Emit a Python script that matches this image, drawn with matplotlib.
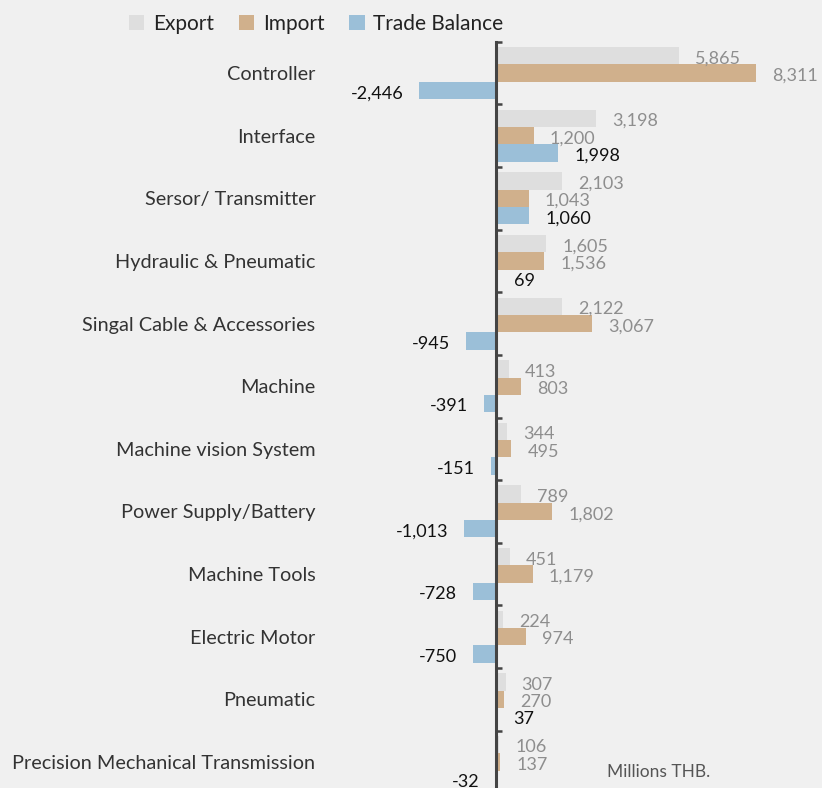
import matplotlib
matplotlib.use("Agg")
import matplotlib.pyplot as plt
from matplotlib.patches import Patch
import numpy as np

categories = ["Controller", "Interface", "Sersor/ Transmitter", "Hydraulic & Pneumatic",
              "Singal Cable & Accessories", "Machine", "Machine vision System",
              "Power Supply/Battery", "Machine Tools", "Electric Motor", "Pneumatic",
              "Precision Mechanical Transmission"]
export_vals = [5865, 3198, 2103, 1605, 2122, 413, 344, 789, 451, 224, 307, 106]
import_vals = [8311, 1200, 1043, 1536, 3067, 803, 495, 1802, 1179, 974, 270, 137]
balance_vals = [-2446, 1998, 1060, 69, -945, -391, -151, -1013, -728, -750, 37, -32]
series_names = ["Export", "Import", "Trade Balance"]
unit_label = "Millions THB."

plt.rcParams['font.family'] = ['Lato', 'DejaVu Sans']

BG = "#f0f0f0"
C_EXP = "#dedede"
C_IMP = "#d0b08c"
C_BAL = "#9bbfd8"

W, H = 822, 788
fig = plt.figure(figsize=(W/100, H/100), dpi=100, facecolor=BG)
top_px, bot_px = 41.7, 793.3
ax = fig.add_axes([0, (H - bot_px)/H, 1, (bot_px - top_px)/H])
ax.set_facecolor(BG)

y = np.arange(len(categories))
bh = 0.277
ax.barh(y - bh, export_vals, height=bh, color=C_EXP)
ax.barh(y, import_vals, height=bh, color=C_IMP)
ax.barh(y + bh, balance_vals, height=bh, color=C_BAL)

scale = 0.03128  # px per unit
ax.set_xlim(-496/scale, (W-496)/scale)
ax.set_ylim(len(categories) - 0.5, -0.5)

for s in ['top', 'right', 'bottom']:
    ax.spines[s].set_visible(False)
ax.spines['left'].set_position(('data', 0))
ax.spines['left'].set_color('#444444')
ax.spines['left'].set_linewidth(2.2)
ax.set_xticks([])
ax.set_yticks(y)
ax.set_yticklabels(categories, fontsize=14.3, color='#333333')
ax.tick_params(axis='y', which='major', length=0, pad=130)
ax.set_yticks(np.arange(len(categories) + 1) - 0.5, minor=True)
ax.tick_params(axis='y', which='minor', direction='in', length=4.5, width=1.8, color='#444444')

def fmt(v):
    return f"{v:,.0f}"

off = 11.5
fs = 13
for yi, v in zip(y - bh, export_vals):
    ax.annotate(fmt(v), (v, yi), xytext=(off, -2), textcoords='offset points',
                ha='left', va='center', fontsize=fs, color='#8e8e8e')
for yi, v in zip(y, import_vals):
    ax.annotate(fmt(v), (v, yi), xytext=(off, -2), textcoords='offset points',
                ha='left', va='center', fontsize=fs, color='#8e8e8e')
for yi, v in zip(y + bh, balance_vals):
    ax.annotate(fmt(v), (v, yi), xytext=(off if v >= 0 else -off, -2), textcoords='offset points',
                ha='left' if v >= 0 else 'right', va='center', fontsize=fs, color='#111111')

handles = [Patch(facecolor=c, edgecolor='none') for c in (C_EXP, C_IMP, C_BAL)]
fig.legend(handles, series_names, loc='upper left', bbox_to_anchor=(110/W, 1.0 + 5/H),
           ncol=3, frameon=False, fontsize=15, handlelength=0.75, handleheight=0.75,
           handletextpad=0.4, columnspacing=1.2, labelcolor='#222222')

fig.text(607/W, 1 - 772/H, unit_label, fontsize=12.5, color='#555555', ha='left', va='center')

fig.savefig("out.png", dpi=100, facecolor=BG)
